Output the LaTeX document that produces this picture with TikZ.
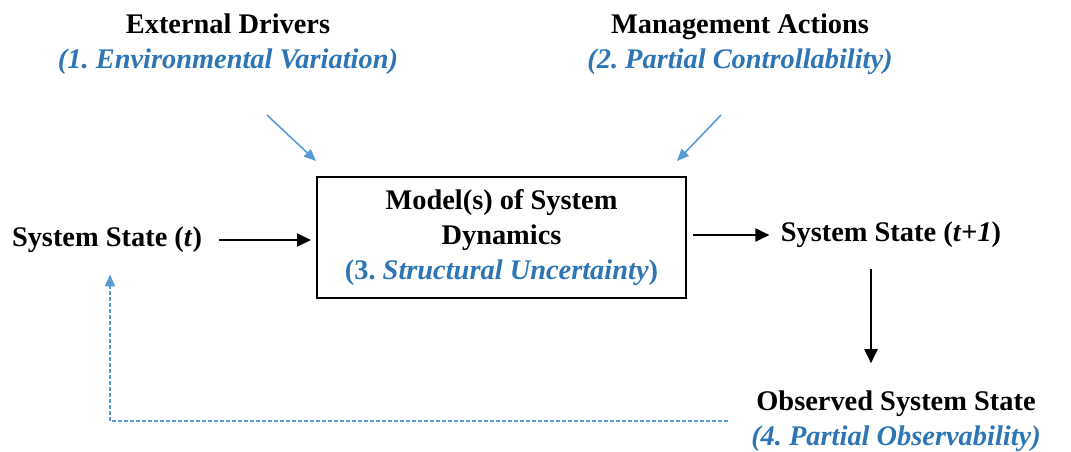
\documentclass[tikz,border=0pt]{standalone}
\usepackage{fontspec}
\setmainfont{Liberation Serif}
\usetikzlibrary{arrows.meta}

\definecolor{uncblue}{RGB}{46,117,182}
\definecolor{arrblue}{RGB}{91,155,213}

\tikzset{
  lbl/.style={font=\fontsize{14.2}{17.5}\selectfont\bfseries\frenchspacing, align=center, inner sep=1.5pt},
  arr/.style={-{Triangle[length=7pt,width=6.5pt]}, line width=1pt},
  barr/.style={-{Triangle[length=6pt,width=5pt]}, line width=0.8pt, arrblue},
}

\begin{document}
\begin{tikzpicture}[x=0.5pt, y=-0.5pt]

    \useasboundingbox (0,0) rectangle (1071,451);

    \node [lbl] (ext) at (228, 44) {External Drivers\\ \color{uncblue}\itshape (1. Environmental Variation)};
    \coordinate (exta) at (267, 115);
    \coordinate (extb) at (316, 161);
    \draw [barr] (exta) -- (extb);

    \node [lbl] (mgt) at (740, 44) {Management Actions\\ \color{uncblue}\itshape (2. Partial Controllability)};
    \coordinate (mgta) at (721, 115);
    \coordinate (mgtb) at (677, 161);
    \draw [barr] (mgta) -- (mgtb);

    \node [lbl, draw, line width=1pt, minimum width=184.5pt, minimum height=60.5pt] (box) at (501.5, 237.5)
        {Model(s) of System\\ Dynamics\\ \color{uncblue}(3. \textit{Structural Uncertainty})};

    \node [lbl] (st) at (107, 240) {System State (\textit{t})};
    \draw [arr, shorten <=7pt, shorten >=2.5pt] (st.east) -- (st.east -| box.west);

    \node [lbl] (st1) at (891, 235) {System State (\textit{t}+\textit{1})};
    \draw [arr, shorten <=3pt, shorten >=4pt] (box.east |- st1) -- (st1.west);

    \node [lbl] (obs) at (896, 421) {Observed System State\\ \color{uncblue}\itshape (4. Partial Observability)};
    \coordinate (dn) at (871, 0);
    \draw [arr, shorten <=9pt, shorten >=12pt] (st1.south -| dn) -- (obs.north -| dn);

    \draw [barr, dash pattern=on 2pt off 1pt, shorten <=10pt, shorten >=9pt] (obs.west) -| ([xshift=1.5pt]st.south);

\end{tikzpicture}
\end{document}
